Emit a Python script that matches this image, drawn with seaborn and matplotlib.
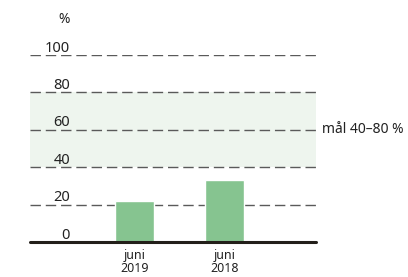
import matplotlib
matplotlib.use("Agg")
import matplotlib.pyplot as plt
import seaborn as sns
import pandas as pd

# data
periods = ["juni\n2019", "juni\n2018"]
values = [22, 33]
y_ticks = [0, 20, 40, 60, 80, 100]
goal_low, goal_high = 40, 80
goal_label = "mål 40–80 %"

df = pd.DataFrame({"period": periods, "value": values})

sns.set_style("white")
plt.rcParams["font.family"] = ["Noto Sans", "DejaVu Sans"]

fig = plt.figure(figsize=(4.08, 2.77), dpi=100)
ax = fig.add_axes([0.0735, 0.1264, 0.701, 0.675])

# goal band
ax.axhspan(goal_low, goal_high, color="#eef5ee", zorder=0, lw=0)

# dashed grid lines
for t in y_ticks[1:]:
    ax.axhline(t, color="#5a5a5a", lw=1.0, linestyle=(0, (7.5, 3.5)), zorder=1)

sns.barplot(data=df, x="period", y="value", color="#86c490", width=0.43,
            saturation=1, ax=ax, zorder=2)

ax.axhline(0, color="#231f1a", lw=2.2, zorder=3, clip_on=False)

ax.set_xlim(-1.16, 2.02)
ax.set_ylim(0, 100)
for s in ax.spines.values():
    s.set_visible(False)
ax.set_yticks([])
ax.set_xlabel("")
ax.set_ylabel("")
ax.tick_params(axis="x", length=0, pad=5, labelsize=9, colors="#222222")
for lbl in ax.get_xticklabels():
    lbl.set_linespacing(1.0)

# y labels sit just above their lines
trans = ax.get_yaxis_transform()
for t in y_ticks:
    ax.text(0.14, t + 1.8, str(t), transform=trans, ha="right", va="baseline",
            fontsize=10.5, color="#222222")
ax.text(0.14, 117, "%", transform=trans, ha="right", va="baseline",
        fontsize=10, color="#222222", clip_on=False)

ax.text(1.02, (goal_low + goal_high) / 2, goal_label, transform=trans,
        ha="left", va="center", fontsize=10, color="#222222")

fig.savefig("out.png", dpi=100)
